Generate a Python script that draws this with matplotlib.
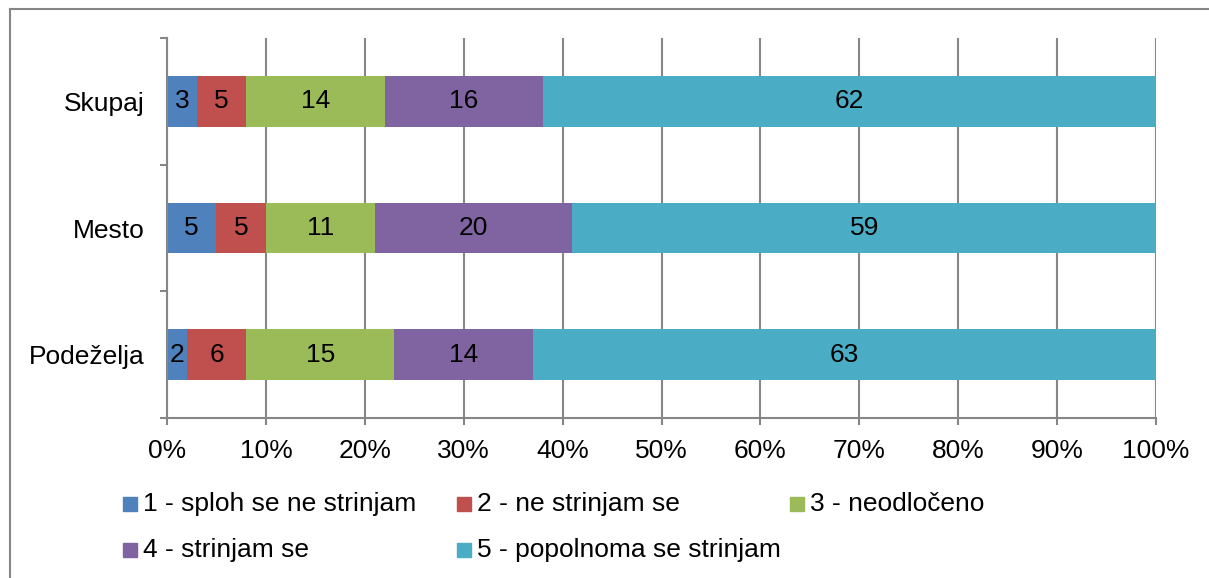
import matplotlib.pyplot as plt
from matplotlib.patches import Rectangle
from matplotlib.lines import Line2D
import numpy as np

plt.rcParams['font.family'] = ['Liberation Sans', 'DejaVu Sans']

categories = ["Podeželja", "Mesto", "Skupaj"]
series_names = [
    "1 - sploh se ne strinjam",
    "2 - ne strinjam se",
    "3 - neodločeno",
    "4 - strinjam se",
    "5 - popolnoma se strinjam",
]
sploh_ne = [2, 5, 3]
ne_strinjam = [6, 5, 5]
neodloceno = [15, 11, 14]
strinjam = [14, 20, 16]
popolnoma = [63, 59, 62]
series_values = [sploh_ne, ne_strinjam, neodloceno, strinjam, popolnoma]
colors = ["#4F81BD", "#C0504D", "#9BBB59", "#8064A2", "#4BACC6"]
x_ticks = [0, 10, 20, 30, 40, 50, 60, 70, 80, 90, 100]

W, H = 1209, 578
fig = plt.figure(figsize=(W / 100, H / 100), dpi=100)
ax = fig.add_axes([167 / W, 1 - 418 / H, (1156 - 167) / W, (418 - 38) / H])

grey = "#868686"
fs = 19

# gridlines behind bars
for t in x_ticks:
    ax.axvline(t, color=grey, lw=1.5, zorder=0)

y = np.arange(len(categories))
left = np.zeros(len(categories))
for vals, col in zip(series_values, colors):
    vals = np.array(vals, dtype=float)
    ax.barh(y, vals, left=left, height=0.4, color=col, zorder=2)
    for yi, l, v in zip(y, left, vals):
        ax.text(l + v / 2, yi, f"{int(v)}", ha="center", va="center",
                fontsize=fs, color="black", zorder=3)
    left += vals

ax.set_xlim(0, 100)
ax.set_ylim(-0.5, len(categories) - 0.5)
ax.set_xticks(x_ticks)
ax.set_xticklabels([f"{t}%" for t in x_ticks], fontsize=fs)
ax.set_yticks(y)
ax.set_yticklabels(categories, fontsize=fs)
ax.set_yticks(np.arange(-0.5, len(categories)), minor=True)
ax.tick_params(axis="y", which="major", length=0, pad=16)
ax.tick_params(axis="y", which="minor", length=5, width=1.5, color=grey,
               direction="out")
ax.tick_params(axis="x", which="major", length=5, width=1.5, color=grey,
               direction="out", pad=10)

for s in ["top", "right"]:
    ax.spines[s].set_visible(False)
for s in ["left", "bottom"]:
    ax.spines[s].set_color(grey)
    ax.spines[s].set_linewidth(1.5)

# legend drawn by hand, Excel style equal columns
leg_pos = [(123, 504), (457, 504), (790, 504), (123, 550), (457, 550)]
sq = 14
for (px, py), name, col in zip(leg_pos, series_names, colors):
    fig.patches.append(Rectangle((px / W, 1 - (py + sq / 2) / H), sq / W, sq / H,
                                 transform=fig.transFigure, color=col))
    fig.text((px + sq + 6) / W, 1 - py / H, name, fontsize=19, va="center",
             ha="left")

# outer chart border
fig.add_artist(Line2D([10 / W, 1], [1 - 9 / H, 1 - 9 / H], color=grey,
                      lw=1.5, transform=fig.transFigure))
fig.add_artist(Line2D([10 / W, 10 / W], [0, 1 - 9 / H], color=grey,
                      lw=1.5, transform=fig.transFigure))

fig.savefig("out.png", dpi=100)
